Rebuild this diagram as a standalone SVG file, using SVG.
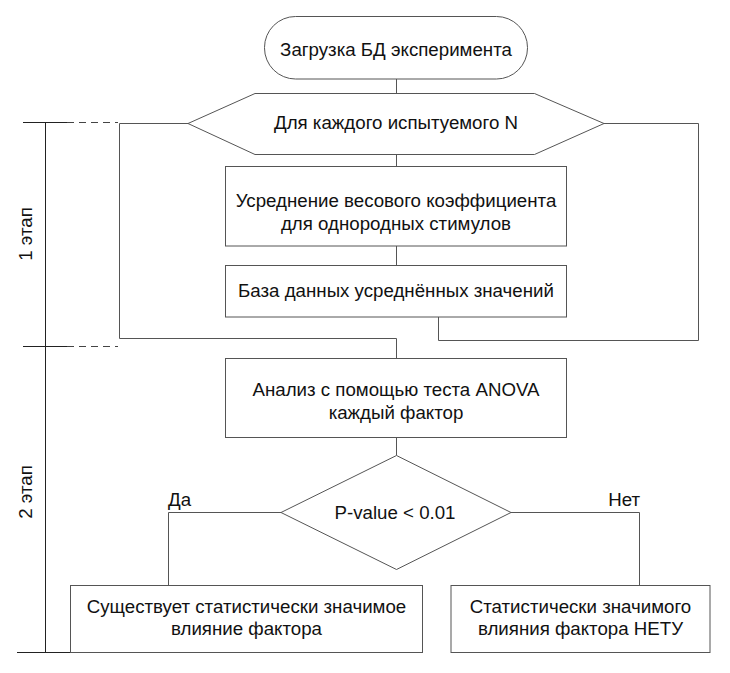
<svg xmlns="http://www.w3.org/2000/svg" width="730" height="673" viewBox="0 0 730 673">
<style>
.shape{fill:#fff;stroke:#555;stroke-width:1}
.conn{fill:none;stroke:#555;stroke-width:1}
.axis{fill:none;stroke:#222;stroke-width:1}
.dash{fill:none;stroke:#444;stroke-width:1;stroke-dasharray:7 5}
text{font-family:"Liberation Sans",Arial,sans-serif;font-size:18.7px;fill:#111}
.c{text-anchor:middle}
</style>
<rect x="0" y="0" width="730" height="673" fill="#fff"/>
<g id="connectors">
<line class="conn" x1="396.5" y1="79" x2="396.5" y2="93.5"/>
<line class="conn" x1="396.5" y1="154.5" x2="396.5" y2="166"/>
<line class="conn" x1="396.5" y1="246" x2="396.5" y2="265"/>
<polyline class="conn" points="188,123.5 119.5,123.5 119.5,338.5 396.5,338.5 396.5,358"/>
<polyline class="conn" points="604,123.5 698.5,123.5 698.5,340.5 438.5,340.5 438.5,317"/>
<line class="conn" x1="396.5" y1="437.5" x2="396.5" y2="455.5"/>
<polyline class="conn" points="281,512.5 168.5,512.5 168.5,585.5"/>
<polyline class="conn" points="511,512.5 639.5,512.5 639.5,585.5"/>
</g>
<g id="stages">
<line class="axis" x1="45.5" y1="122" x2="45.5" y2="652.5"/>
<line class="axis" x1="23" y1="122.5" x2="67" y2="122.5"/>
<line class="dash" x1="67" y1="122.5" x2="118" y2="122.5"/>
<line class="axis" x1="23" y1="346.5" x2="67" y2="346.5"/>
<line class="dash" x1="67" y1="346.5" x2="118" y2="346.5"/>
<line class="axis" x1="17" y1="652.5" x2="70" y2="652.5"/>
<text class="c" transform="translate(32,234) rotate(-90)">1 этап</text>
<text class="c" transform="translate(32,492) rotate(-90)">2 этап</text>
</g>
<g id="start">
<rect class="shape" x="264.5" y="16.5" width="263" height="62.5" rx="31" ry="31"/>
<text class="c" x="396" y="55.5">Загрузка БД эксперимента</text>
</g>
<g id="loop">
<polygon class="shape" points="188,123.5 255,93.5 534.5,93.5 604,123.5 534.5,154.5 255,154.5"/>
<text class="c" x="396" y="129">Для каждого испытуемого N</text>
</g>
<g id="averaging">
<rect class="shape" x="225.5" y="166.5" width="341" height="79.5"/>
<text class="c" x="396" y="207">Усреднение весового коэффициента</text>
<text class="c" x="396" y="230">для однородных стимулов</text>
</g>
<g id="database">
<rect class="shape" x="225.5" y="265.5" width="341" height="51.5"/>
<text class="c" x="396" y="297">База данных усреднённых значений</text>
</g>
<g id="anova">
<rect class="shape" x="225.5" y="358.5" width="341" height="79"/>
<text class="c" x="396" y="396">Анализ с помощью теста ANOVA</text>
<text class="c" x="396" y="419">каждый фактор</text>
</g>
<g id="decision">
<polygon class="shape" points="396.5,455.5 511,512.5 396.5,569.5 281,512.5"/>
<text class="c" x="395" y="519">P-value &lt; 0.01</text>
<text x="168" y="506">Да</text>
<text x="640" y="506" text-anchor="end">Нет</text>
</g>
<g id="yes">
<rect class="shape" x="70.5" y="585.5" width="352" height="67"/>
<text class="c" x="246.5" y="613">Существует статистически значимое</text>
<text class="c" x="246.5" y="635">влияние фактора</text>
</g>
<g id="no">
<rect class="shape" x="451" y="585.5" width="259" height="67"/>
<text class="c" x="580.5" y="613">Статистически значимого</text>
<text class="c" x="580.5" y="635">влияния фактора НЕТУ</text>
</g>
</svg>
